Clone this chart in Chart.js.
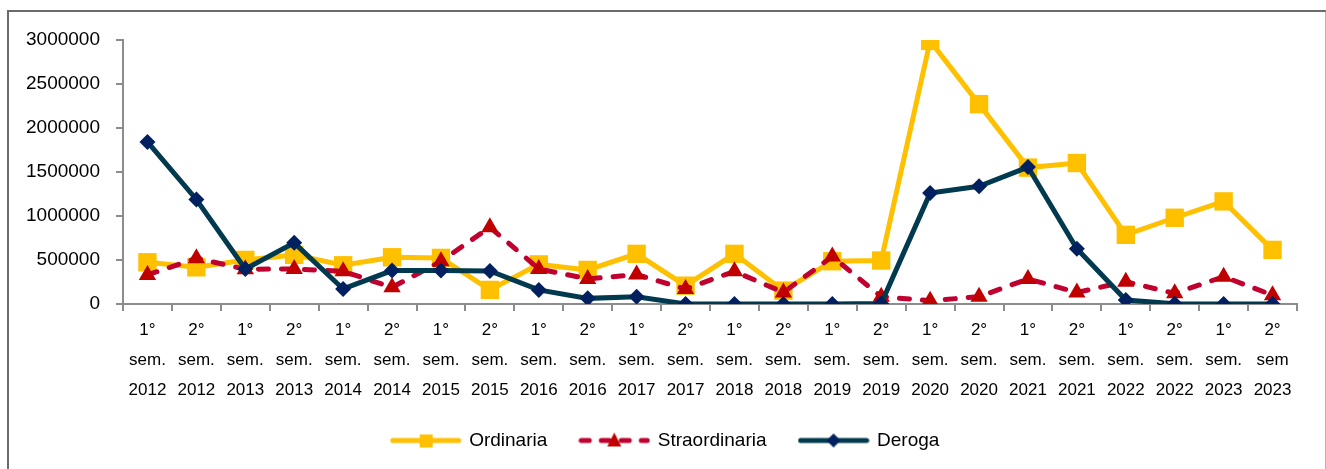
<!DOCTYPE html>
<html>
<head>
<meta charset="utf-8">
<script src="https://cdn.jsdelivr.net/npm/chart.js@4.4.1/dist/chart.umd.min.js"></script>
<style>
  html, body { margin: 0; padding: 0; background: #fff; overflow: hidden; }
  #frame { position: absolute; left: 7px; top: 10px; width: 1316px; height: 480px;
           border: 2px solid #6b6b6b; border-right-color: #b4b4b4; border-bottom: none; }
  #wrap { position: absolute; left: 0; top: 0; width: 1326px; height: 469px; }
</style>
</head>
<body>
<div id="frame"></div>
<div id="wrap"><canvas id="semChart"></canvas></div>
<script>
// semestri (ogni etichetta va su tre righe)
const periodi = [
  '1° sem. 2012', '2° sem. 2012', '1° sem. 2013', '2° sem. 2013',
  '1° sem. 2014', '2° sem. 2014', '1° sem. 2015', '2° sem. 2015',
  '1° sem. 2016', '2° sem. 2016', '1° sem. 2017', '2° sem. 2017',
  '1° sem. 2018', '2° sem. 2018', '1° sem. 2019', '2° sem. 2019',
  '1° sem. 2020', '2° sem. 2020', '1° sem. 2021', '2° sem. 2021',
  '1° sem. 2022', '2° sem. 2022', '1° sem. 2023', '2° sem 2023'
];
const ordinaria = [474000, 417000, 501000, 558000, 440000, 531000, 524000, 160000,
  450000, 387000, 570000, 208000, 570000, 152000, 486000, 494000,
  2990000, 2271000, 1550000, 1602000, 786000, 980000, 1166000, 615000];
const straordinaria = [330000, 520000, 395000, 399000, 371000, 189000, 486000, 873000,
  399000, 285000, 334000, 171000, 371000, 132000, 539000, 83000,
  38000, 83000, 285000, 132000, 254000, 121000, 311000, 100000];
const deroga = [1841000, 1188000, 399000, 695000, 171000, 380000, 380000, 375000,
  160000, 64000, 83000, 0, 0, 0, 0, 5000,
  1260000, 1337000, 1556000, 627000, 45000, 3000, 0, 0];
const yTicks = [0, 500000, 1000000, 1500000, 2000000, 2500000, 3000000];

const FONT = "'Liberation Sans', Arial, sans-serif";

function legendIcon(lineColor, fill, dash, shape) {
  const c = document.createElement('canvas');
  c.width = 72; c.height = 20;
  const g = c.getContext('2d');
  g.strokeStyle = lineColor;
  g.lineWidth = 5;
  g.lineCap = 'round';
  g.setLineDash(dash);
  g.beginPath(); g.moveTo(3, 10); g.lineTo(69, 10); g.stroke();
  g.setLineDash([]);
  g.fillStyle = fill;
  g.beginPath();
  if (shape === 'rect') g.rect(30, 4, 13, 13);
  else if (shape === 'triangle') { g.moveTo(36, 2); g.lineTo(43, 16); g.lineTo(29, 16); }
  else { g.moveTo(36, 3); g.lineTo(43, 10); g.lineTo(36, 17); g.lineTo(29, 10); }
  g.closePath(); g.fill();
  return c;
}

const icons = [
  legendIcon('#FFC000', '#FFC000', [], 'rect'),
  legendIcon('#C0002F', '#C00000', [8, 12], 'triangle'),
  legendIcon('#013A4E', '#002060', [], 'rectRot')
];

// la legenda è centrata sulla cornice, non sull'area del grafico
const legendShift = {
  id: 'legendShift',
  afterLayout(chart) {
    chart.legend.left += 17;
    chart.legend.right += 17;
  }
};

const ctx = document.getElementById('semChart').getContext('2d');
new Chart(ctx, {
  type: 'line',
  data: {
    labels: periodi.map(p => p.split(' ')),
    datasets: [{
      label: 'Ordinaria',
      data: ordinaria,
      borderColor: '#FFC000',
      backgroundColor: '#FFC000',
      borderWidth: 5,
      pointStyle: 'rect',
      pointRadius: 13,
      pointBorderWidth: 0,
      pointHoverRadius: 13,
      order: 3,
      tension: 0
    }, {
      label: 'Straordinaria',
      data: straordinaria,
      borderColor: '#C0002F',
      backgroundColor: '#C00000',
      borderWidth: 5,
      borderDash: [10, 13],
      borderCapStyle: 'round',
      pointStyle: 'triangle',
      pointRadius: 10,
      pointBorderWidth: 0,
      order: 2,
      tension: 0
    }, {
      label: 'Deroga',
      data: deroga,
      borderColor: '#013A4E',
      backgroundColor: '#002060',
      borderWidth: 5,
      pointStyle: 'rectRot',
      pointRadius: 8,
      pointBorderWidth: 0,
      order: 1,
      tension: 0
    }]
  },
  options: {
    responsive: true,
    maintainAspectRatio: false,
    animation: false,
    layout: { padding: { left: 0, right: 29, top: 40, bottom: 9 } },
    scales: {
      x: {
        offset: true,
        grid: { offset: true, drawOnChartArea: false, tickLength: 7, color: '#8c8c8c', lineWidth: 2 },
        border: { color: '#8c8c8c', width: 2 },
        ticks: {
          color: '#000', padding: 4, maxRotation: 0, autoSkip: false,
          font: { family: FONT, size: 17, lineHeight: '30px' }
        },
        afterFit: s => { s.height = 94; }
      },
      y: {
        min: yTicks[0],
        max: yTicks[yTicks.length - 1],
        afterBuildTicks: s => { s.ticks = yTicks.map(v => ({ value: v })); },
        grid: { drawOnChartArea: false, tickLength: 7, color: '#8c8c8c', lineWidth: 2 },
        border: { color: '#8c8c8c', width: 2 },
        ticks: {
          color: '#000', padding: 16,
          font: { family: FONT, size: 19 },
          callback: v => String(v)
        },
        afterFit: s => { s.width = 123; }
      }
    },
    plugins: {
      tooltip: { enabled: false },
      legend: {
        position: 'bottom',
        labels: {
          color: '#000',
          padding: 33,
          usePointStyle: true,
          pointStyleWidth: 68,
          font: { family: FONT, size: 19 },
          generateLabels: chart => chart.data.datasets.map((d, i) => ({
            text: d.label,
            pointStyle: icons[i],
            datasetIndex: i,
            fontColor: '#000',
            hidden: false,
            lineWidth: 0
          }))
        }
      }
    }
  },
  plugins: [legendShift]
});
</script>
</body>
</html>
